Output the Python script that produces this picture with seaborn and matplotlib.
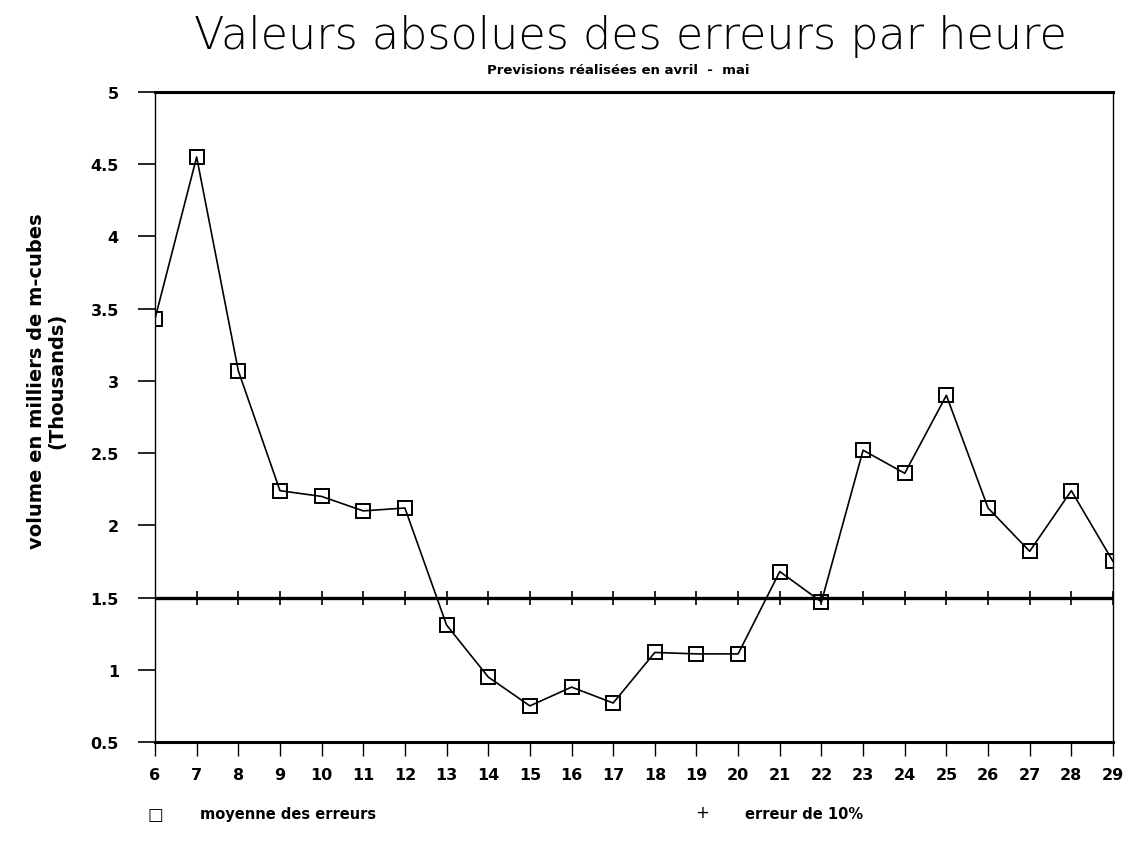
import numpy as np
import pandas as pd
import matplotlib
matplotlib.use("Agg")
import matplotlib.pyplot as plt
import seaborn as sns

# hours and mean absolute errors (thousands of m3)
heures = list(range(6, 30))
moyenne = [3.43, 4.55, 3.07, 2.24, 2.20, 2.10, 2.12, 1.31, 0.95, 0.75, 0.88, 0.77,
           1.12, 1.11, 1.11, 1.68, 1.47, 2.52, 2.36, 2.90, 2.12, 1.82, 2.24, 1.75]
erreur_10 = [1.5] * len(heures)

y_ticks = [0.5, 1, 1.5, 2, 2.5, 3, 3.5, 4, 4.5, 5]
y_labels = ["0.5", "1", "1.5", "2", "2.5", "3", "3.5", "4", "4.5", "5"]

data = pd.DataFrame({"heure": heures, "moyenne": moyenne, "erreur": erreur_10})

sns.set_style("ticks", {"axes.edgecolor": "black", "xtick.color": "black",
                        "ytick.color": "black", "text.color": "black"})
plt.rcParams['font.family'] = ['DejaVu Sans']
plt.rcParams['text.color'] = 'black'

fig = plt.figure(figsize=(11.29, 8.53), dpi=100)
ax = fig.add_axes([155 / 1129, 1 - 743 / 853, (1113 - 155) / 1129, (743 - 93) / 853])

# 10% error reference line
sns.lineplot(data=data, x="heure", y="erreur", ax=ax, color="black", linewidth=2.4,
             marker="+", markersize=10, markeredgecolor="black",
             markeredgewidth=1.2, zorder=2)

# mean errors
sns.lineplot(data=data, x="heure", y="moyenne", ax=ax, color="black", linewidth=1.2,
             marker="s", markersize=10.5, markerfacecolor="none",
             markeredgecolor="black", markeredgewidth=1.4, zorder=3)

ax.set_xlim(6, 29)
ax.set_ylim(0.5, 5)
ax.set_xticks(heures)
ax.set_xticklabels([str(h) for h in heures])
ax.set_yticks(y_ticks)
ax.set_yticklabels(y_labels)
ax.set_xlabel("")
ax.set_ylabel("")

for side in ["left", "right"]:
    ax.spines[side].set_linewidth(1.0)
for side in ["top", "bottom"]:
    ax.spines[side].set_linewidth(2.2)

ax.tick_params(axis="y", direction="out", length=12, width=1.2, pad=14,
               labelsize=11.5, colors="black")
ax.tick_params(axis="x", direction="out", length=10, width=1.0, pad=8,
               labelsize=11.5, colors="black")
for lab in ax.get_xticklabels() + ax.get_yticklabels():
    lab.set_fontweight("bold")

# titles
fig.text(630 / 1129, 1 - 36 / 853, "Valeurs absolues des erreurs par heure",
         ha="center", va="center", fontsize=32, fontweight="light", color="black")
fig.text(618 / 1129, 1 - 70 / 853, "Previsions réalisées en avril  -  mai",
         ha="center", va="center", fontsize=9.5, fontweight="bold", color="black")

# y label
fig.text(47 / 1129, 1 - 381 / 853, "volume en milliers de m-cubes\n(Thousands)",
         ha="center", va="center", rotation=90, fontsize=14, fontweight="bold",
         multialignment="center", linespacing=1.1, color="black")

# legend
fig.text(155 / 1129, 1 - 815 / 853, "□", ha="center", va="center", fontsize=12,
         color="black")
fig.text(200 / 1129, 1 - 815 / 853, "moyenne des erreurs", ha="left", va="center",
         fontsize=10.5, fontweight="bold", color="black")
fig.text(702 / 1129, 1 - 813 / 853, "+", ha="center", va="center", fontsize=12,
         color="black")
fig.text(745 / 1129, 1 - 815 / 853, "erreur de 10%", ha="left", va="center",
         fontsize=10.5, fontweight="bold", color="black")

fig.savefig("out.png", dpi=100)
